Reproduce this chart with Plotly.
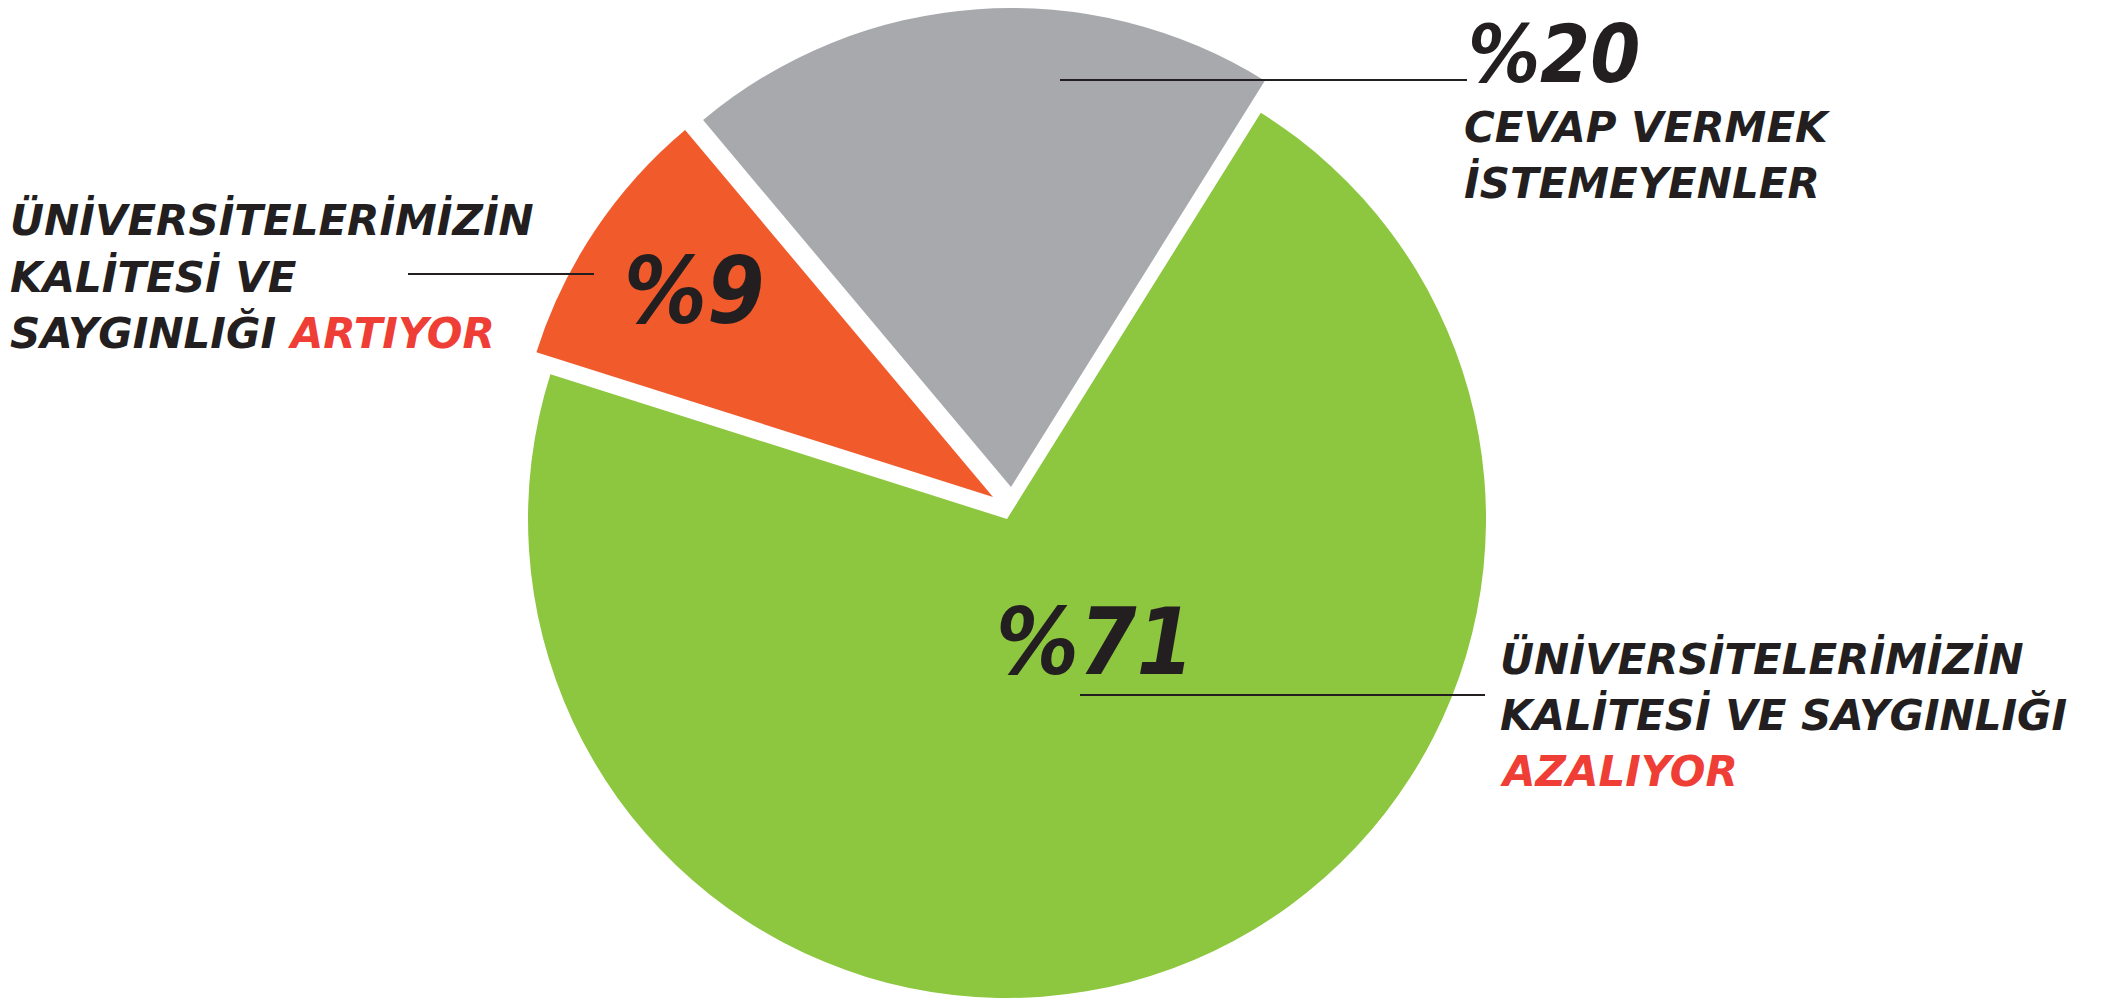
import plotly.graph_objects as go

# ---- data ----
categories = ["Azalıyor", "Artıyor", "Cevap vermek istemeyenler"]
values = [71, 9, 20]
pct_labels = ["%71", "%9", "%20"]
colors = ["#8dc63f", "#f15a2b", "#a7a9ac"]

W, H = 2110, 1002
PAGE_OFF = 8          # default body margin of the html page
R = 479
# exploded slice apex positions (page px, from top-left)
centers = [(1007, 519), (993, 497), (1011, 487)]


def px(x, y):
    return (x - PAGE_OFF) / W, 1 - (y - PAGE_OFF) / H


fig = go.Figure()
for i in range(len(values)):
    xc, yc = px(*centers[i])
    hh = R / H
    hw = (R + 30) / W
    slice_colors = ["rgba(0,0,0,0)"] * len(values)
    slice_colors[i] = colors[i]
    y0, y1 = yc - hh, yc + hh
    if y1 > 1:
        y0, y1 = y0 - (y1 - 1), 1
    fig.add_trace(go.Pie(
        labels=categories, values=values, sort=False, direction="clockwise",
        rotation=32, marker=dict(colors=slice_colors, line=dict(width=0)),
        textinfo="none", hoverinfo="skip", showlegend=False,
        domain=dict(x=[xc - hw, xc + hw], y=[y0, y1]),
    ))

BLACK = "#231f20"
RED = "#ef3e36"
LABEL_FONT = dict(family="DejaVu Sans", size=42, color=BLACK, weight="bold", style="italic")
BIG_FONT = dict(family="DejaVu Sans Condensed, DejaVu Sans", size=92, color=BLACK,
                weight="bold", style="italic")
TOP_FONT = dict(BIG_FONT, size=80)


def ann(text, x, y, font):
    ax, ay = px(x, y)
    fig.add_annotation(text=text, x=ax, y=ay, xref="paper", yref="paper",
                       xanchor="left", yanchor="middle", showarrow=False, font=font,
                       borderpad=0, borderwidth=0)


def red(t):
    return f"<span style='color:{RED}'>{t}</span>"

# big percentages
ann(pct_labels[2], 1468, 54.5, TOP_FONT)
ann(pct_labels[1], 624, 292, BIG_FONT)
ann(pct_labels[0], 996, 642, BIG_FONT)

# labels
ann("CEVAP VERMEK", 1464, 127, LABEL_FONT)
ann("İSTEMEYENLER", 1464, 183, LABEL_FONT)

ann("ÜNİVERSİTELERİMİZİN", 10, 220, LABEL_FONT)
ann("KALİTESİ VE", 10, 277, LABEL_FONT)
ann("SAYGINLIĞI " + red("ARTIYOR"), 10, 333, LABEL_FONT)

ann("ÜNİVERSİTELERİMİZİN", 1500, 659, LABEL_FONT)
ann("KALİTESİ VE SAYGINLIĞI", 1500, 715, LABEL_FONT)
ann(red("AZALIYOR"), 1500, 771, LABEL_FONT)

# leader lines
for (xa, ya, xb, yb) in [(1060, 80, 1467, 80), (408, 274, 594, 274), (1080, 695, 1485, 695)]:
    x0, y0 = px(xa, ya)
    x1, y1 = px(xb, yb)
    fig.add_shape(type="line", xref="paper", yref="paper", x0=x0, x1=x1, y0=y0, y1=y1,
                  line=dict(color=BLACK, width=2))

fig.update_layout(width=W, height=H, margin=dict(l=0, r=0, t=0, b=0),
                  paper_bgcolor="white", plot_bgcolor="white", showlegend=False)

fig.write_html("out.html")
